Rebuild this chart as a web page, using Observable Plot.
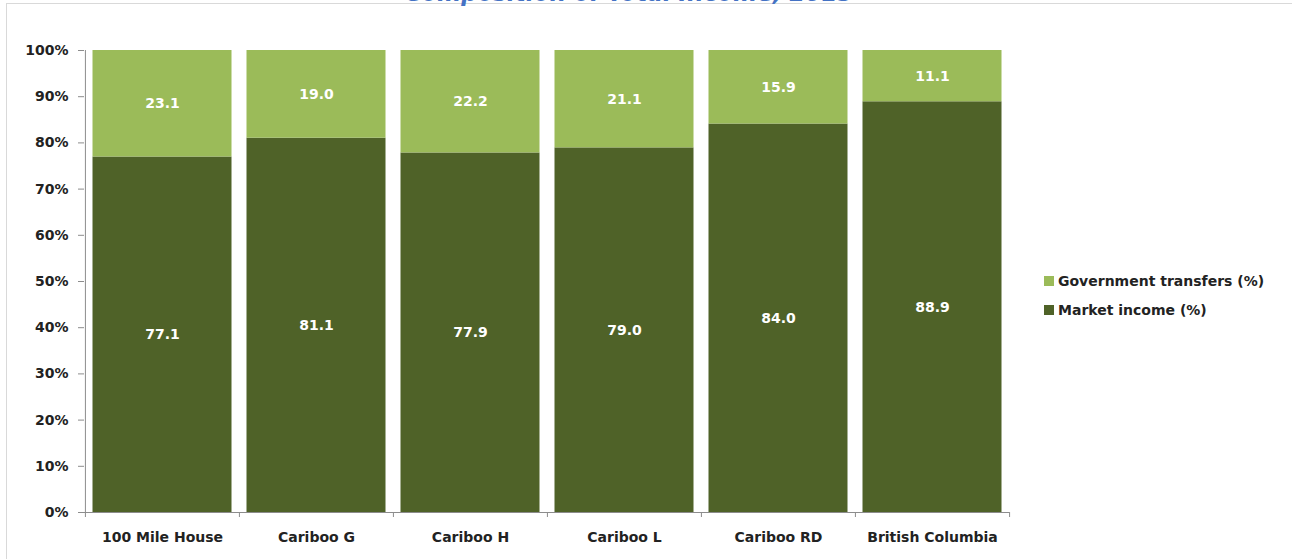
<!DOCTYPE html>
<html>
<head>
<meta charset="utf-8">
<script src="https://cdn.jsdelivr.net/npm/d3@7"></script>
<script src="https://cdn.jsdelivr.net/npm/@observablehq/plot@0.6"></script>
<style>
  html, body { margin: 0; padding: 0; background: #fff; }
  #wrap { position: relative; width: 1292px; height: 559px; overflow: hidden; background: #fff; }
  #frame { position: absolute; left: 6px; top: 3px; width: 1300px; height: 600px;
           border-top: 1.5px solid #d9d9d9; border-left: 1.5px solid #d9d9d9; }
  #title { position: absolute; left: 0; width: 1258px; top: -18px; text-align: center;
           font-family: "DejaVu Sans", sans-serif; font-weight: bold; font-style: italic;
           font-size: 23px; line-height: 23px; color: #4472C4; z-index: 3; white-space: nowrap; }
  #chart { position: absolute; left: 0; top: 0; z-index: 2; }
  .leg { position: absolute; left: 1044px; font-family: "DejaVu Sans", sans-serif; font-weight: bold;
         font-size: 14px; color: #222; z-index: 3; white-space: nowrap; display: flex; align-items: center; height: 20px; }
  .leg .sw { width: 10px; height: 10px; margin-right: 4px; }
</style>
</head>
<body>
<div id="wrap">
  <div id="frame"></div>
  <div id="title">Composition of Total Income, 2015</div>
  <div id="chart"></div>
  <div id="legend"></div>
</div>
<script>
const categories = ["100 Mile House", "Cariboo G", "Cariboo H", "Cariboo L", "Cariboo RD", "British Columbia"];
const marketIncome = [77.1, 81.1, 77.9, 79.0, 84.0, 88.9];
const governmentTransfers = [23.1, 19.0, 22.2, 21.1, 15.9, 11.1];
const seriesNames = ["Market income (%)", "Government transfers (%)"];
const seriesColors = ["#4F6228", "#9BBB59"];
const legendOrder = ["Government transfers (%)", "Market income (%)"];
const yTicks = [0, 10, 20, 30, 40, 50, 60, 70, 80, 90, 100];

const rows = categories.flatMap((c, i) => [
  {category: c, series: seriesNames[0], value: marketIncome[i]},
  {category: c, series: seriesNames[1], value: governmentTransfers[i]}
]);

const W = 1292, H = 559, mL = 84, mR = 283, mT = 50, mB = 47;
const step = (W - mL - mR) / categories.length;
const gridColor = "#8c8c8c";

const chart = Plot.plot({
  width: W, height: H,
  marginLeft: mL, marginRight: mR, marginTop: mT, marginBottom: mB,
  style: {fontFamily: "DejaVu Sans, sans-serif", fontWeight: "bold", fontSize: "14px", color: "#222", background: "transparent"},
  x: {domain: categories, padding: 0},
  y: {domain: [0, 100], percent: true},
  color: {domain: seriesNames, range: seriesColors},
  marks: [
    Plot.gridY(yTicks, {stroke: gridColor, strokeOpacity: 1}),
    Plot.barY(rows, Plot.stackY({offset: "normalize", order: seriesNames, x: "category", y: "value", fill: "series", insetLeft: 7.5, insetRight: 7.5})),
    Plot.text(rows, Plot.stackY({offset: "normalize", order: seriesNames, x: "category", y: "value", z: "series", text: d => d.value.toFixed(1), fill: "white"})),
    Plot.ruleX([categories[0]], {dx: -step / 2, stroke: gridColor}),
    Plot.ruleY([0], {stroke: gridColor}),
    Plot.ruleX(categories, {dx: -step / 2, y1: 0, y2: 0, insetBottom: -5, stroke: gridColor}),
    Plot.ruleX([categories[categories.length - 1]], {dx: step / 2, y1: 0, y2: 0, insetBottom: -5, stroke: gridColor}),
    Plot.axisY({ticks: yTicks, tickFormat: d => d + "%", tickSize: 6, tickPadding: 10, stroke: gridColor, fill: "#222", label: null}),
    Plot.axisX({tickSize: 0, tickPadding: 20, fill: "#222", label: null})
  ]
});
document.getElementById("chart").appendChild(chart);

const legendTops = [271, 300];
const legend = document.getElementById("legend");
legendOrder.forEach((name, i) => {
  const d = document.createElement("div");
  d.className = "leg";
  d.style.top = legendTops[i] + "px";
  const sw = document.createElement("span");
  sw.className = "sw";
  sw.style.background = seriesColors[seriesNames.indexOf(name)];
  const t = document.createElement("span");
  t.textContent = name;
  d.appendChild(sw); d.appendChild(t);
  legend.appendChild(d);
});
</script>
</body>
</html>
